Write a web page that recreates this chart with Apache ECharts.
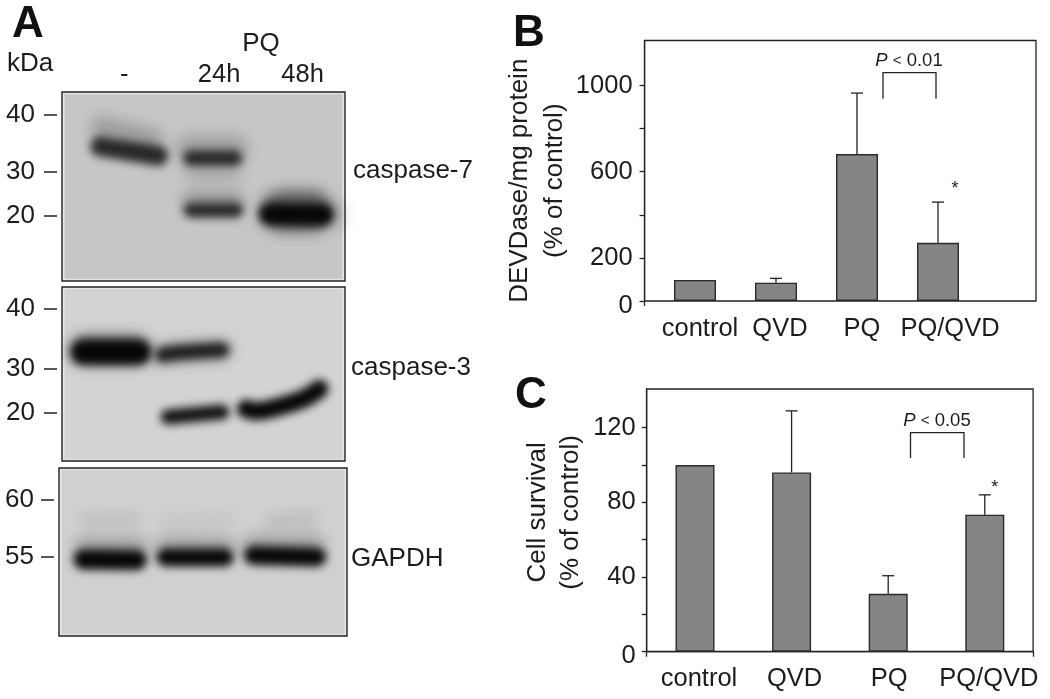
<!DOCTYPE html>
<html><head><meta charset="utf-8">
<style>html,body{margin:0;padding:0;background:#fff}#c{width:1050px;height:699px}</style>
<script src="https://cdn.jsdelivr.net/npm/echarts@6/dist/echarts.min.js"></script>
</head><body><div id="c"></div>
<script>
// Panel B
const categories = ['control', 'QVD', 'PQ', 'PQ/QVD'];
const bValues = [98, 85, 682, 270];
const bErrorTops = [null, 105, 965, 459];
const bTickValues = [0, 200, 400, 600, 800, 1000];
const bLabelValues = [0, 200, 600, 1000];
// Panel C
const cValues = [100, 96, 31, 73.4];
const cErrorTops = [null, 129, 40.7, 84];
const cTickValues = [0, 20, 40, 60, 80, 100, 120];
const cLabelValues = [0, 40, 80, 120];
// Panel A: lanes and molecular-weight markers, on gel scales running 0-100
const laneNames = ['-', '24h', '48h'];
const lanePositions = [22, 55.5, 85];
const marker1Positions = [12.2, 42.3, 65.6];
const marker1Labels = ['40', '30', '20'];
const marker2Positions = [12.6, 47.1, 72.4];
const marker2Labels = ['40', '30', '20'];
const marker3Positions = [19, 53];
const marker3Labels = ['60', '55'];
// bands: track through the gel as [lane position, migration] points, band thickness, density
const caspase7Tracks = [
  [[14,19],[32,25.4]], [[13.5,28.8],[34,33.8]], [[45,30],[61,30]], [[45.5,35],[61,35]],
  [[45.5,43],[61,43]], [[45.5,57.5],[61,57.5]], [[45.5,62.6],[61.5,62.6]],
  [[77.7,63],[88.3,63]], [[73.5,64.6],[92,65]], [[98.9,59.8],[98.9,70.4]]
];
const caspase7Thickness = [11.6, 10.5, 14, 8, 7, 9, 7.6, 22, 11.6, 2];
const caspase7Density = [0.22, 0.82, 0.2, 0.8, 0.17, 0.28, 0.82, 0.55, 1, 0.35];
const caspase3Tracks = [
  [[8,36.2],[26,36.2]], [[7.5,37.4],[27,37.4]], [[35.5,39],[40,37.9],[56.5,36.2]], [[35.5,39],[40,37.9],[56.5,36.2]],
  [[37.5,74.7],[56.5,71.8]], [[65,70.1],[69.3,71.3],[78.8,67.8],[85.9,63.8],[91,58.5]]
];
const caspase3Thickness = [17, 14, 11, 8.2, 8.6, 10.5];
const caspase3Density = [0.55, 1, 0.35, 0.85, 0.95, 1];
const gapdhTracks = [
  [[9,31],[26.4,30.4]], [[36.8,32.7],[59.4,31]], [[73.3,32],[87.8,30.4]],
  [[9,47.6],[27,47.6]], [[37,47.6],[57.5,47.6]], [[67.5,46.4],[88.5,46.4]],
  [[8.5,54.4],[27,54.8]], [[37,53.2],[57.5,53.2]], [[67.5,52],[89.5,53]]
];
const gapdhThickness = [5.5, 5.5, 6.5, 13, 13, 13, 12, 10.5, 11.2];
const gapdhDensity = [0.12, 0.07, 0.12, 0.24, 0.24, 0.24, 1, 1, 1];

const FONT = '"Liberation Sans", Arial, sans-serif';
const INK = '#1c1c1c';
const chart = echarts.init(document.getElementById('c'));

function gelSeries(i, tracks, thick, dens, bg) {
  const OFF = 3000;
  return [{
    type: 'custom', xAxisIndex: i, yAxisIndex: i, silent: true, data: [0], z: 1,
    renderItem: (p, api) => {
      const a = api.coord([0.9, 1.2]), b = api.coord([99.1, 98.8]);
      return {type: 'rect', shape: {x: a[0], y: a[1], width: b[0]-a[0], height: b[1]-a[1]},
        style: {fill: bg}};
    }
  }, {
    type: 'custom', xAxisIndex: i, yAxisIndex: i, silent: true, z: 2,
    data: tracks.map((t, k) => k),
    renderItem: (p, api) => {
      const k = api.value(0);
      const pts = tracks[k].map(q => { const c = api.coord(q); return [c[0] - OFF, c[1]]; });
      const w = api.size([0, thick[k]])[1];
      return {type: 'polyline', shape: {points: pts, smooth: tracks[k].length > 2 ? 0.4 : 0},
        style: {fill: null, stroke: '#000', lineWidth: w, lineCap: 'round',
          shadowColor: 'rgba(8,8,8,' + dens[k] + ')', shadowBlur: dens[k] >= 0.8 ? 8 : 14, shadowOffsetX: OFF}};
    }
  }];
}
function errorSeries(xi, yi, values, tops) {
  return {
    type: 'custom', xAxisIndex: xi, yAxisIndex: yi, silent: true, z: 1,
    data: categories.map((c, i) => [i, values[i], tops[i]]).filter(d => d[2] !== null),
    renderItem: (p, api) => {
      const base = api.coord([api.value(0), api.value(1)]);
      const top = api.coord([api.value(0), api.value(2)]);
      const st = {stroke: '#222', lineWidth: 1.3};
      return {type: 'group', children: [
        {type: 'line', shape: {x1: base[0], y1: base[1], x2: top[0], y2: top[1]}, style: st},
        {type: 'line', shape: {x1: top[0]-6, y1: top[1], x2: top[0]+6, y2: top[1]}, style: st}
      ]};
    }
  };
}
function barSeries(xi, yi, values, w) {
  return {type: 'bar', xAxisIndex: xi, yAxisIndex: yi, data: values, barWidth: w, silent: true, z: 2,
    itemStyle: {color: '#858585', borderColor: '#2a2a2a', borderWidth: 1.4}};
}
const lineSt = {color: '#222', width: 1.3};
function gelY(i, pos, labels) {
  return {gridIndex: i, type: 'value', inverse: true, min: 0, max: 100, offset: 5, splitLine: {show: false},
    axisLine: {show: false, onZero: false},
    axisTick: {show: true, length: 13, customValues: pos, lineStyle: {color: '#222', width: 1.5}},
    axisLabel: {show: true, margin: i === 2 ? 20 : 22, customValues: pos, fontFamily: FONT, fontSize: 26, color: INK, padding: [4, 0, 0, 0],
      formatter: v => labels[pos.indexOf(v)] }};
}
function hiddenX(i) { return {gridIndex: i, type: 'value', min: 0, max: 100, show: false}; }
function catLabel(shift) {
  const rich = {};
  shift.forEach((s, i) => { rich['l'+i] = {fontFamily: FONT, fontSize: 25.5, color: INK,
    padding: [0, s[0] < 0 ? -2*s[0] : 0, 2*s[1], s[0] > 0 ? 2*s[0] : 0]}; });
  return {show: true, interval: 0, formatter: (v, i) => '{l'+i+'|'+v+'}', rich};
}
function valueLabel(values, margin) {
  return {show: true, margin, customValues: values, fontFamily: FONT, fontSize: 25.5, color: INK,
    formatter: v => v === 0 ? '{z|0}' : String(v),
    rich: {z: {fontFamily: FONT, fontSize: 25.5, color: INK, padding: [9, 0, 0, 0]}}};
}
function pLabel(x, y, txt) {
  return {type: 'text', x, y, style: {text: '{i|P} {s|<} ' + txt, align: 'center', verticalAlign: 'middle',
    rich: {i: {fontFamily: FONT, fontSize: 18.5, fontStyle: 'italic', fill: INK, color: INK},
           s: {fontFamily: FONT, fontSize: 15, fill: INK, color: INK}},
    fontFamily: FONT, fontSize: 18.5, fill: INK}};
}
function txt(x, y, text, o) {
  return {type: 'text', x, y, style: Object.assign({text, fontFamily: FONT, fontSize: 26, fill: INK,
    align: 'left', verticalAlign: 'middle'}, o || {})};
}
function bracket(x1, x2, yt, yb) {
  return {type: 'polyline', shape: {points: [[x1,yb],[x1,yt],[x2,yt],[x2,yb]]}, style: {fill: null, stroke: '#222', lineWidth: 1.3}};
}
const bold = {fontWeight: 'bold', fontSize: 44, fill: '#111', align: 'center'};

const option = {
  animation: false, backgroundColor: '#fff',
  grid: [
    {left: 62, top: 92, width: 283, height: 189, show: true, backgroundColor: '#e6e6e6', borderColor: '#222', borderWidth: 1.4},
    {left: 62, top: 287, width: 283, height: 174, show: true, backgroundColor: '#e6e6e6', borderColor: '#222', borderWidth: 1.4},
    {left: 59, top: 468, width: 288, height: 168, show: true, backgroundColor: '#e6e6e6', borderColor: '#222', borderWidth: 1.4},
    {left: 644.6, top: 40.5, width: 391.4, height: 260.5, show: true, borderColor: '#222', borderWidth: 1.3},
    {left: 654.5, top: 40.5, width: 324, height: 260.5},
    {left: 646.7, top: 389, width: 386.4, height: 262.7, show: true, borderColor: '#222', borderWidth: 1.3}
  ],
  xAxis: [
    {gridIndex: 0, type: 'value', position: 'top', min: 0, max: 100, splitLine: {show: false}, axisLine: {show: false}, axisTick: {show: false},
      axisLabel: {show: true, margin: 4, customValues: lanePositions, fontFamily: FONT, fontSize: 25.5, color: INK,
        formatter: v => laneNames[lanePositions.indexOf(v)]}},
    hiddenX(1), hiddenX(2),
    {gridIndex: 3, type: 'value', min: 0, max: 1, splitLine: {show: false}, axisLine: {show: false}, axisLabel: {show: false},
      axisTick: {show: true, customValues: [0], length: 5, lineStyle: lineSt}},
    {gridIndex: 4, type: 'category', data: categories, axisLine: {show: false}, axisTick: {show: false},
      axisLabel: Object.assign(catLabel([[5,0],[4,0],[5,3],[12,0]]), {margin: 15})},
    {gridIndex: 5, type: 'category', data: categories, axisLine: {show: true, lineStyle: lineSt},
      axisTick: {show: true, length: 5, interval: i => i === 0, lineStyle: lineSt},
      axisLabel: Object.assign(catLabel([[4,0],[3,0],[1,0],[4,0]]), {margin: 14})}
  ],
  yAxis: [
    gelY(0, marker1Positions, marker1Labels),
    gelY(1, marker2Positions, marker2Labels),
    gelY(2, marker3Positions, marker3Labels),
    {gridIndex: 3, type: 'value', min: 0, max: 1209, splitLine: {show: false}, axisLine: {show: true, lineStyle: lineSt},
      axisTick: {show: true, length: 5, customValues: bTickValues, lineStyle: lineSt},
      axisLabel: valueLabel(bLabelValues, 12),
      name: 'DEVDase/mg protein\n(% of control)', nameLocation: 'middle', nameGap: 68, nameRotate: 90,
      nameTextStyle: {fontFamily: FONT, fontSize: 26, color: INK, lineHeight: 35, padding: [0, 20, 0, 0]}},
    {gridIndex: 4, type: 'value', min: 0, max: 1209, show: false},
    {gridIndex: 5, type: 'value', min: 0, max: 140.7, splitLine: {show: false}, axisLine: {show: true, lineStyle: lineSt},
      axisTick: {show: true, length: 5, customValues: cTickValues, lineStyle: lineSt},
      axisLabel: valueLabel(cLabelValues, 11),
      name: 'Cell survival\n(% of control)', nameLocation: 'middle', nameGap: 59, nameRotate: 90,
      nameTextStyle: {fontFamily: FONT, fontSize: 26, color: INK, lineHeight: 33, padding: [0, 0, 0, 16]}}
  ],
  series: [
    ...gelSeries(0, caspase7Tracks, caspase7Thickness, caspase7Density, '#c6c6c6'),
    ...gelSeries(1, caspase3Tracks, caspase3Thickness, caspase3Density, '#d3d3d3'),
    ...gelSeries(2, gapdhTracks, gapdhThickness, gapdhDensity, '#d0d0d0'),
    errorSeries(4, 4, bValues, bErrorTops), barSeries(4, 4, bValues, 42),
    errorSeries(5, 5, cValues, cErrorTops), barSeries(5, 5, cValues, 39)
  ],
  graphic: {elements: [
    txt(28, 25, 'A', bold), txt(529, 34, 'B', bold), txt(531, 396, 'C', bold),
    txt(7, 64, 'kDa'), txt(261, 44, 'PQ', {align: 'center'}),
    txt(353, 171, 'caspase-7'), txt(351, 368, 'caspase-3'), txt(351, 559, 'GAPDH'),
    bracket(883, 936, 72.7, 98.7), pLabel(909, 61, '0.01'),
    txt(955, 189, '*', {align: 'center', fontSize: 18}),
    bracket(910.5, 964, 432.7, 458), pLabel(937, 421, '0.05'),
    txt(994.7, 488, '*', {align: 'center', fontSize: 18})
  ]}
};
chart.setOption(option);
</script></body></html>
